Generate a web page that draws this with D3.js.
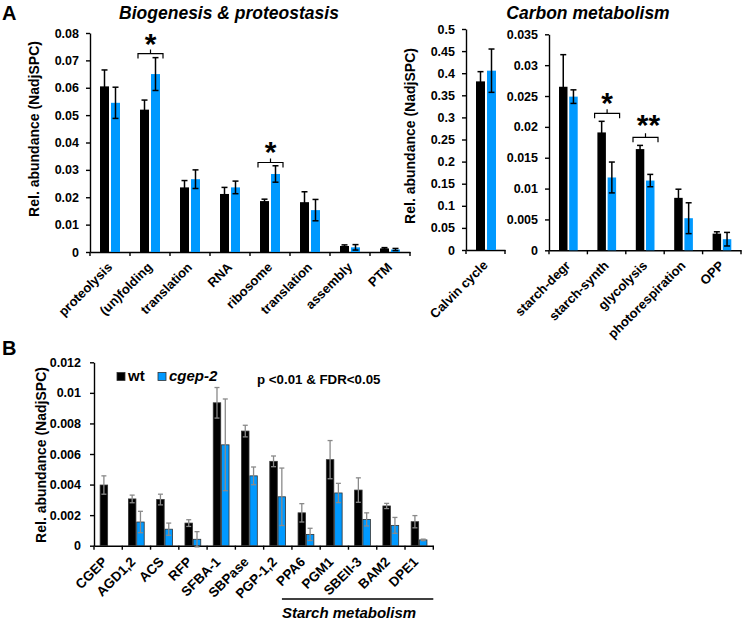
<!DOCTYPE html>
<html><head><meta charset="utf-8">
<script src="https://cdn.jsdelivr.net/npm/d3@7"></script>
<style>
body{margin:0;background:#fff}
svg{display:block}
text{font-family:"Liberation Sans",Arial,sans-serif;font-weight:bold;fill:#000}
</style>
</head><body>
<svg id="chart" width="742" height="621"></svg>
<script>
// ---------- DATA ----------
// Panel A, left: Biogenesis & proteostasis
const bioCats = ["proteolysis","(un)folding","translation","RNA","ribosome","translation","assembly","PTM"];
const bioWt = [0.0605,0.0520,0.0236,0.0212,0.0186,0.0182,0.0022,0.0013];
const bioWtErr = [0.0060,0.0035,0.0025,0.0024,0.0007,0.0038,0.0004,0.0003];
const bioMut = [0.0545,0.0650,0.0266,0.0236,0.0285,0.0153,0.0017,0.0009];
const bioMutErr = [0.0057,0.0060,0.0034,0.0023,0.0030,0.0039,0.0010,0.0004];
const bioTicks = [0,0.01,0.02,0.03,0.04,0.05,0.06,0.07,0.08];
const bioSig = [{cat:1, bracket:0.0725, label:"*"},{cat:4, bracket:0.0327, label:"*"}];

// Panel A, right: Calvin cycle
const calvinCats = ["Calvin cycle"];
const calvinWt = [0.3815];
const calvinWtErr = [0.022];
const calvinMut = [0.4057];
const calvinMutErr = [0.049];
const calvinTicks = [0,0.05,0.1,0.15,0.2,0.25,0.3,0.35,0.4,0.45,0.5];

// Panel A, right: Carbon metabolism
const carbCats = ["starch-degr","starch-synth","glycolysis","photorespiration","OPP"];
const carbWt = [0.0265,0.0191,0.0164,0.0085,0.0027];
const carbWtErr = [0.0052,0.0018,0.0006,0.0014,0.0003];
const carbMut = [0.0249,0.0118,0.0113,0.0052,0.0018];
const carbMutErr = [0.0011,0.0025,0.0010,0.0025,0.0011];
const carbTicks = [0,0.005,0.01,0.015,0.02,0.025,0.03,0.035];
const carbSig = [{cat:1, bracket:0.0222, label:"*"},{cat:2, bracket:0.0183, label:"**"}];

// Panel B
const bCats = ["CGEP","AGD1,2","ACS","RFP","SFBA-1","SBPase","PGP-1,2","PPA6","PGM1","SBEII-3","BAM2","DPE1"];
const bWt = [0.00397,0.00306,0.00302,0.00148,0.00935,0.00750,0.00552,0.00215,0.00563,0.00364,0.00260,0.00157];
const bWtErr = [0.00060,0.00025,0.00035,0.00022,0.00100,0.00038,0.00035,0.00060,0.00125,0.00080,0.00017,0.00040];
const bMut = [0,0.00155,0.00108,0.00042,0.00660,0.00457,0.00320,0.00074,0.00345,0.00172,0.00133,0.00038];
const bMutErr = [0,0.00070,0.00040,0.00050,0.00300,0.00058,0.00188,0.00040,0.00063,0.00043,0.00052,0.00005];
const bTicks = [0,0.002,0.004,0.006,0.008,0.01,0.012];
const seriesNames = ["wt","cgep-2"];

// ---------- DRAWING ----------
const BLUE = "#0099ff";
const svg = d3.select("#chart");
const fmt = d => d === 0 ? "0" : String(+d.toFixed(4));

function drawPanel(o) {
  const g = svg.append("g");
  const idx = o.cats.map((c,i)=>i);
  const x = d3.scaleBand().domain(idx).range(o.xr).paddingInner(0).paddingOuter(0);
  const y = d3.scaleLinear().domain([0, o.ymax]).range([o.y0, o.y1]);
  // y axis
  const ya = g.append("g").attr("transform", `translate(${o.xr[0]},0)`)
    .call(d3.axisLeft(y).tickValues(o.ticks).tickSize(4).tickSizeOuter(0).tickPadding(o.tickPad||7).tickFormat(fmt));
  ya.attr("font-family", null).attr("font-size", null);
  ya.select(".domain").attr("stroke","#000").attr("stroke-width",1.4);
  ya.selectAll(".tick line").attr("stroke","#000").attr("stroke-width",1.4);
  ya.selectAll(".tick text").style("font-size", (o.tickFs||12.5)+"px").attr("fill","#000");
  // x axis
  const xa = g.append("g").attr("transform", `translate(0,${o.y0})`)
    .call(d3.axisBottom(x).tickSize(0).tickSizeOuter(0).tickFormat(""));
  xa.select(".domain").attr("stroke","#000").attr("stroke-width",1.4);
  const bounds = idx.map(i => x(i)).concat([x(idx[idx.length-1]) + x.bandwidth()]);
  g.selectAll(".bt").data(bounds).join("line")
    .attr("x1", d=>d).attr("x2", d=>d).attr("y1", o.y0).attr("y2", o.y0+4)
    .attr("stroke","#000").attr("stroke-width",1.4);
  // category labels
  g.selectAll(".cl").data(idx).join("text")
    .attr("transform", i => `translate(${x(i)+x.bandwidth()/2+o.ldx},${o.y0+o.ldy}) rotate(-45)`)
    .attr("text-anchor","end").style("font-size", o.labelFs+"px")
    .text(i => o.cats[i]);
  // bars
  const c = i => x(i) + x.bandwidth()/2;
  const series = [
    {v:o.wt, e:o.wtErr, fill:"#000", off:o.offWt},
    {v:o.mut, e:o.mutErr, fill:BLUE, off:o.offMut}
  ];
  series.forEach(s => {
    const bars = idx.filter(i => s.v[i] > 0);
    g.selectAll(null).data(bars).join("rect")
      .attr("x", i => c(i)+s.off).attr("width", o.barW)
      .attr("y", i => y(s.v[i])).attr("height", i => o.y0 - y(s.v[i]))
      .attr("fill", s.fill)
      .attr("stroke", o.barStroke || "none").attr("stroke-width", o.barStroke ? 0.8 : 0);
    const eb = g.selectAll(null).data(bars.filter(i => s.e[i] > 0)).join("g")
      .attr("stroke", o.errColor).attr("stroke-width", o.errW);
    const cx = i => c(i)+s.off+o.barW/2;
    eb.append("line").attr("x1",cx).attr("x2",cx)
      .attr("y1", i => y(s.v[i]+s.e[i])).attr("y2", i => y(s.v[i]-s.e[i]));
    eb.append("line").attr("x1",i=>cx(i)-o.capW/2).attr("x2",i=>cx(i)+o.capW/2)
      .attr("y1", i => y(s.v[i]+s.e[i])).attr("y2", i => y(s.v[i]+s.e[i]));
    eb.append("line").attr("x1",i=>cx(i)-o.capW/2).attr("x2",i=>cx(i)+o.capW/2)
      .attr("y1", i => y(s.v[i]-s.e[i])).attr("y2", i => y(s.v[i]-s.e[i]));
  });
  // significance brackets
  (o.sig||[]).forEach(s => {
    const xm = c(s.cat) + 0.5, yb = y(s.bracket), hw = 12.5;
    g.append("path")
      .attr("d", `M${xm-hw},${yb+5}V${yb}H${xm+hw}V${yb+5}M${xm},${yb}V${yb-4}`)
      .attr("fill","none").attr("stroke","#000").attr("stroke-width",1.2);
    g.append("text").attr("x", xm + (s.label.length>1?3:0)).attr("y", yb + (s.label.length>1? -2: 0)).attr("text-anchor","middle")
      .style("font-size","30px").text(s.label);
  });
  return {x, y, c};
}

// Panel A left
drawPanel({cats:bioCats, wt:bioWt, wtErr:bioWtErr, mut:bioMut, mutErr:bioMutErr,
  xr:[90,410], y0:252, y1:33, ymax:0.08, ticks:bioTicks,
  barW:9, offWt:-10, offMut:1, errColor:"#000", errW:1.5, capW:6,
  labelFs:13, ldx:3, ldy:16, sig:bioSig});

// Calvin
drawPanel({cats:calvinCats, wt:calvinWt, wtErr:calvinWtErr, mut:calvinMut, mutErr:calvinMutErr,
  xr:[466,505], y0:250, y1:29, ymax:0.5, ticks:calvinTicks,
  barW:9, offWt:-9.5, offMut:1.5, errColor:"#000", errW:1.5, capW:6,
  labelFs:13, ldx:3, ldy:16});

// Carbon
drawPanel({cats:carbCats, wt:carbWt, wtErr:carbWtErr, mut:carbMut, mutErr:carbMutErr,
  xr:[549,741], y0:250.3, y1:34.3, ymax:0.035, ticks:carbTicks,
  barW:8.5, offWt:-9.2, offMut:1, errColor:"#000", errW:1.5, capW:6,
  labelFs:13, ldx:3, ldy:16, sig:carbSig});

// Panel B
const pb = drawPanel({cats:bCats, wt:bWt, wtErr:bWtErr, mut:bMut, mutErr:bMutErr,
  xr:[94,433.3], y0:545.7, y1:362.3, ymax:0.012, ticks:bTicks, tickPad:9,
  barW:7.5, offWt:-8, offMut:0.3, errColor:"#8a8a8a", errW:1.3, capW:5, barStroke:"#333",
  labelFs:13.5, ldx:0, ldy:17});

// Titles & panel letters
svg.append("text").attr("x",2).attr("y",20).style("font-size","20px").text("A");
svg.append("text").attr("x",2).attr("y",355).style("font-size","20px").text("B");
svg.append("text").attr("x",229).attr("y",18.5).attr("text-anchor","middle")
  .style("font-size","17.5px").style("font-style","italic").text("Biogenesis & proteostasis");
svg.append("text").attr("x",588).attr("y",18.5).attr("text-anchor","middle")
  .style("font-size","17.5px").style("font-style","italic").text("Carbon metabolism");

// Y axis titles
[[39,129],[415,136],[46,455]].forEach(([xx,yy]) => {
  svg.append("text").attr("transform",`translate(${xx},${yy}) rotate(-90)`)
    .attr("text-anchor","middle").style("font-size","14px").text("Rel. abundance (NadjSPC)");
});

// Legend B
const leg = [{n:seriesNames[0], f:"#000", x:117, italic:false},{n:seriesNames[1], f:BLUE, x:158, italic:true}];
leg.forEach(l => {
  svg.append("rect").attr("x",l.x).attr("y",372.5).attr("width",8).attr("height",8)
    .attr("fill",l.f).attr("stroke","#333").attr("stroke-width",0.8);
  svg.append("text").attr("x",l.x+11).attr("y",381).style("font-size","15px")
    .style("font-style", l.italic?"italic":"normal").text(l.n);
});
svg.append("text").attr("x",257).attr("y",384).style("font-size","13.3px").text("p <0.01 & FDR<0.05");

// Starch metabolism line
const sx0 = pb.x(7) - 10, sx1 = pb.x(11) + pb.x.bandwidth();
svg.append("line").attr("x1",sx0).attr("x2",sx1).attr("y1",599).attr("y2",599)
  .attr("stroke","#000").attr("stroke-width",1.5);
svg.append("text").attr("x",sx0).attr("y",618).style("font-size","15px")
  .style("font-style","italic").text("Starch metabolism");
</script>
</body></html>
